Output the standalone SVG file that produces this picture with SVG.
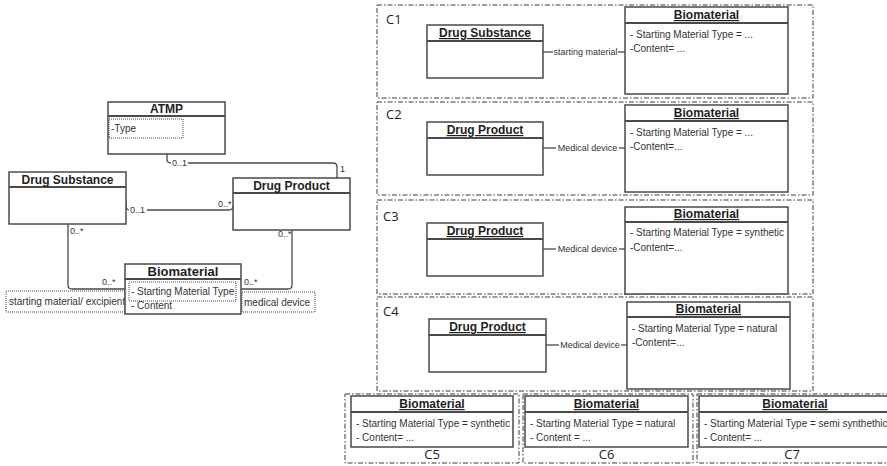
<svg xmlns="http://www.w3.org/2000/svg" width="887" height="466" viewBox="0 0 887 466">
<style>
.box{fill:#fff;stroke:#4a4a4a;stroke-width:1.5}
.hl{stroke:#4a4a4a;stroke-width:1.8}
.hd{font-family:"Liberation Sans",Arial,sans-serif;font-weight:bold;font-size:12px;fill:#1e1e1e;text-anchor:middle}
.u{text-decoration:underline}
.at{font-family:"Liberation Sans",Arial,sans-serif;font-size:10px;fill:#333}
.lb{font-family:"Liberation Sans",Arial,sans-serif;font-size:9px;fill:#333}
.cl{font-family:"Open Sans","Liberation Sans",sans-serif;font-size:13px;fill:#222}
.frame{fill:none;stroke:#3a3a3a;stroke-width:1;stroke-dasharray:5 2 1.5 2}
.dot{fill:#fff;stroke:#444;stroke-width:1;stroke-dasharray:1 1}
.ln{fill:none;stroke:#4a4a4a;stroke-width:1.3}
.bg{fill:#fff}
</style>
<rect width="887" height="466" fill="#fff"/>

<!-- left diagram labels (under Biomaterial box) -->
<g id="label-starting-material">
<rect class="dot" x="6" y="291" width="119" height="21"/>
<text class="at" x="9" y="305">starting material/ excipient</text>
</g>
<g id="label-medical-device">
<rect class="dot" x="242" y="292" width="73" height="20"/>
<text class="at" x="244" y="306">medical device</text>
</g>

<g id="connectors">
<path class="ln" d="M167,154 V159 Q167,163 171,163 H333 Q337,163 337,167 V178"/>
<rect class="bg" x="171" y="158" width="17" height="9"/>
<text class="lb" x="172" y="166">0..1</text>
<text class="lb" x="340" y="172">1</text>
<path class="ln" d="M126,201 V206 Q126,210 130,210 H229 Q233,210 233,206"/>
<rect class="bg" x="129" y="205" width="18" height="9"/>
<text class="lb" x="130" y="213">0..1</text>
<text class="lb" x="218" y="207">0..*</text>
<path class="ln" d="M68,224 V285 Q68,289 72,289 H125"/>
<text class="lb" x="70" y="234">0..*</text>
<text class="lb" x="102" y="285">0..*</text>
<path class="ln" d="M292,230 V285 Q292,289 288,289 H241"/>
<text class="lb" x="278" y="237">0..*</text>
<text class="lb" x="244" y="285">0..*</text>
</g>

<g id="atmp">
<rect class="box" x="108" y="102" width="117" height="52"/>
<line class="hl" x1="108" y1="116" x2="225" y2="116"/>
<text class="hd" x="166.5" y="113">ATMP</text>
<rect class="dot" x="109" y="119" width="74" height="19"/>
<text class="at" x="111" y="132">-Type</text>
</g>
<g id="drug-substance">
<rect class="box" x="9" y="172" width="117" height="52"/>
<line class="hl" x1="9" y1="187" x2="126" y2="187"/>
<text class="hd" x="67.5" y="184">Drug Substance</text>
</g>
<g id="drug-product">
<rect class="box" x="233" y="178" width="117" height="52"/>
<line class="hl" x1="233" y1="193" x2="350" y2="193"/>
<text class="hd" x="291.5" y="190">Drug Product</text>
</g>
<g id="biomaterial">
<rect class="box" x="125" y="264" width="116" height="50"/>
<line class="hl" x1="125" y1="279" x2="241" y2="279"/>
<text class="hd" x="183" y="276" style="font-size:13px">Biomaterial</text>
<rect class="dot" x="129" y="282" width="107" height="19"/>
<text class="at" x="131" y="295">- Starting Material Type</text>
<text class="at" x="131" y="309">- Content</text>
</g>

<!-- C1 -->
<g id="c1">
<rect class="frame" x="377" y="5" width="436" height="93"/>
<text class="cl" x="386" y="24">C1</text>
<g id="c1-drug-substance">
<rect class="box" x="427" y="25" width="116" height="53"/>
<line class="hl" x1="427" y1="41" x2="543" y2="41"/>
<text class="hd u" x="485" y="37">Drug Substance</text>
</g>
<g id="c1-biomaterial">
<rect class="box" x="625" y="7" width="163" height="87"/>
<line class="hl" x1="625" y1="23" x2="788" y2="23"/>
<text class="hd u" x="706.5" y="19">Biomaterial</text>
<text class="at" x="630" y="38">- Starting Material Type = ...</text>
<text class="at" x="630" y="52">-Content= ...</text>
</g>
<g id="c1-connector">
<line class="ln" x1="543" y1="52" x2="553" y2="52"/>
<line class="ln" x1="618" y1="52" x2="625" y2="52"/>
<text class="lb" x="585.5" y="55" text-anchor="middle">starting material</text>
</g>
</g>

<!-- C2 -->
<g id="c2">
<rect class="frame" x="377" y="102" width="436" height="93"/>
<text class="cl" x="386" y="119">C2</text>
<g id="c2-drug-product">
<rect class="box" x="427" y="122" width="116" height="53"/>
<line class="hl" x1="427" y1="138" x2="543" y2="138"/>
<text class="hd u" x="485" y="134">Drug Product</text>
</g>
<g id="c2-biomaterial">
<rect class="box" x="625" y="105" width="163" height="87"/>
<line class="hl" x1="625" y1="121" x2="788" y2="121"/>
<text class="hd u" x="706.5" y="117">Biomaterial</text>
<text class="at" x="630" y="136">- Starting Material Type = ...</text>
<text class="at" x="630" y="150">-Content=...</text>
</g>
<g id="c2-connector">
<line class="ln" x1="543" y1="148" x2="556" y2="148"/>
<line class="ln" x1="619" y1="148" x2="625" y2="148"/>
<text class="lb" x="587.5" y="151" text-anchor="middle">Medical device</text>
</g>
</g>

<!-- C3 -->
<g id="c3">
<rect class="frame" x="377" y="200" width="436" height="94"/>
<text class="cl" x="383" y="221">C3</text>
<g id="c3-drug-product">
<rect class="box" x="427" y="223" width="116" height="53"/>
<line class="hl" x1="427" y1="239" x2="543" y2="239"/>
<text class="hd u" x="485" y="235">Drug Product</text>
</g>
<g id="c3-biomaterial">
<rect class="box" x="625" y="207" width="163" height="87"/>
<line class="hl" x1="625" y1="222" x2="788" y2="222"/>
<text class="hd u" x="706.5" y="218">Biomaterial</text>
<text class="at" x="630" y="236">- Starting Material Type = synthetic</text>
<text class="at" x="630" y="251">-Content=...</text>
</g>
<g id="c3-connector">
<line class="ln" x1="543" y1="249" x2="556" y2="249"/>
<line class="ln" x1="619" y1="249" x2="625" y2="249"/>
<text class="lb" x="587.5" y="252" text-anchor="middle">Medical device</text>
</g>
</g>

<!-- C4 -->
<g id="c4">
<rect class="frame" x="377" y="297" width="436" height="94"/>
<text class="cl" x="383" y="316">C4</text>
<g id="c4-drug-product">
<rect class="box" x="429" y="319" width="117" height="53"/>
<line class="hl" x1="429" y1="335" x2="546" y2="335"/>
<text class="hd u" x="487.5" y="331">Drug Product</text>
</g>
<g id="c4-biomaterial">
<rect class="box" x="627" y="302" width="163" height="87"/>
<line class="hl" x1="627" y1="317" x2="790" y2="317"/>
<text class="hd u" x="708.5" y="313">Biomaterial</text>
<text class="at" x="632" y="332">- Starting Material Type = natural</text>
<text class="at" x="632" y="346">-Content=...</text>
</g>
<g id="c4-connector">
<line class="ln" x1="546" y1="345" x2="559" y2="345"/>
<line class="ln" x1="621" y1="345" x2="627" y2="345"/>
<text class="lb" x="590" y="348" text-anchor="middle">Medical device</text>
</g>
</g>

<!-- C5 -->
<g id="c5">
<rect class="frame" x="345" y="394" width="174" height="69"/>
<g id="c5-biomaterial">
<rect class="box" x="351" y="396" width="162" height="51"/>
<line class="hl" x1="351" y1="412" x2="513" y2="412"/>
<text class="hd u" x="432" y="408">Biomaterial</text>
<text class="at" x="356" y="427">- Starting Material Type = synthetic</text>
<text class="at" x="356" y="441">- Content= ...</text>
</g>
<text class="cl" x="432" y="459" text-anchor="middle">C5</text>
</g>

<!-- C6 -->
<g id="c6">
<rect class="frame" x="523" y="394" width="170" height="69"/>
<g id="c6-biomaterial">
<rect class="box" x="525" y="396" width="163" height="51"/>
<line class="hl" x1="525" y1="412" x2="688" y2="412"/>
<text class="hd u" x="606.5" y="408">Biomaterial</text>
<text class="at" x="530" y="427">- Starting Material Type = natural</text>
<text class="at" x="530" y="441">- Content = ...</text>
</g>
<text class="cl" x="606.5" y="459" text-anchor="middle">C6</text>
</g>

<!-- C7 -->
<g id="c7">
<rect class="frame" x="697" y="394" width="200" height="69"/>
<g id="c7-biomaterial">
<rect class="box" x="699" y="396" width="192" height="51"/>
<line class="hl" x1="699" y1="412" x2="891" y2="412"/>
<text class="hd u" x="795" y="408">Biomaterial</text>
<text class="at" x="704" y="427">- Starting Material Type = semi synthethic</text>
<text class="at" x="704" y="441">- Content= ...</text>
</g>
<text class="cl" x="792" y="459" text-anchor="middle">C7</text>
</g>
</svg>
